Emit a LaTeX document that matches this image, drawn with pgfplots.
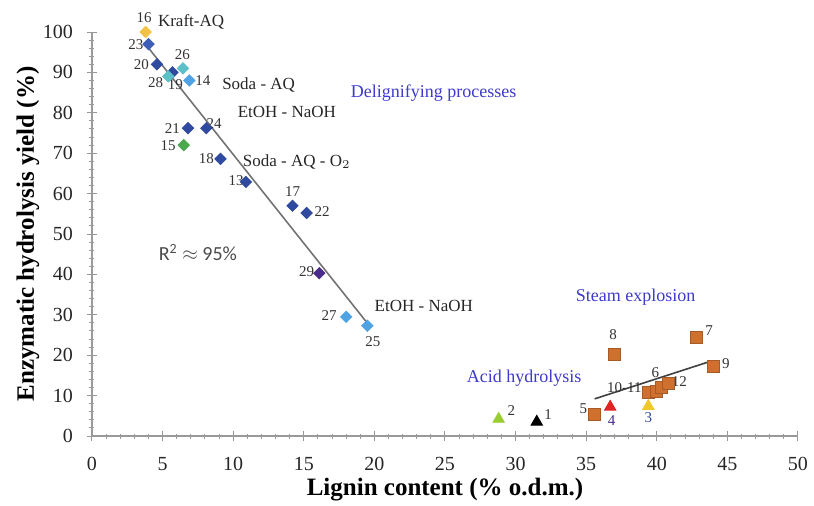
\documentclass[border=0pt]{standalone}
\usepackage{pgfplots}
\pgfplotsset{compat=1.18}
\usepackage{fontspec}
\setmainfont{Liberation Serif}
\newfontfamily\rfont{Carlito}
\definecolor{dblue}{HTML}{2F4A9E}
\definecolor{mblue}{HTML}{3D5DB8}
\definecolor{lblue}{HTML}{4FA3E3}
\definecolor{teal1}{HTML}{5CC0C8}
\definecolor{purp}{HTML}{4A2A8A}
\definecolor{grn}{HTML}{4CA84C}
\definecolor{gold}{HTML}{F2C246}
\definecolor{sqor}{HTML}{D0702E}
\definecolor{tgreen}{HTML}{9ACD32}
\definecolor{tred}{HTML}{E02424}
\definecolor{tyel}{HTML}{F0C828}
\definecolor{lbl}{HTML}{3E3ACB}
\begin{document}
\begin{tikzpicture}
\begin{axis}[name=ax,
  scale only axis, width=353pt, height=202pt,
  xmin=0, xmax=50, ymin=0, ymax=100,
  axis x line*=bottom, axis y line*=left,
  axis line style={draw=gray!80, line width=0.6pt},
  xtick={0,5,...,50}, ytick={0,10,...,100},
  minor x tick num=4, minor y tick num=4,
  tick align=center,
  major tick length=5pt, minor tick length=2.5pt,
  tick style={gray!80, line width=0.5pt},
  ticklabel style={font=\fontsize{10}{11}\selectfont, text=black!85},
  yticklabel style={xshift=-3.5pt},
  xticklabel style={yshift=-4.5pt},
  /pgf/number format/assume math mode=true,
  xlabel={\bfseries Lignin content (\% o.d.m.)},
  ylabel={\bfseries Enzymatic hydrolysis yield (\%)},
  label style={font=\fontsize{12.5}{13}\selectfont},
  xlabel style={at={(axis description cs:0.5,-0.1337)}, anchor=center},
  ylabel style={at={(axis description cs:-0.0907,0.5)}, anchor=center, rotate=0},
  clip=false,
]
% regression lines
\addplot[gray!90!black, line width=0.8pt, no marks] coordinates {(3.9,96.5) (19.6,27.5)};
\addplot[gray!50!black, line width=0.8pt, no marks] coordinates {(35.6,9.2) (43.9,18.6)};
% diamonds
\addplot[only marks, mark=square*, mark size=2.0pt, mark options={rotate=45, fill=dblue, draw=dblue}] coordinates {
(4.6,92) (5.7,90) (6.8,76.2) (8.1,76.2) (9.1,68.6) (10.9,62.9) (14.2,57) (15.2,55.2)};
\addplot[only marks, mark=square*, mark size=2.0pt, mark options={rotate=45, fill=mblue, draw=mblue}] coordinates {(4.0,97)};
\addplot[only marks, mark=square*, mark size=2.0pt, mark options={rotate=45, fill=teal1, draw=teal1}] coordinates {(6.45,91) (5.4,89)};
\addplot[only marks, mark=square*, mark size=2.0pt, mark options={rotate=45, fill=lblue, draw=lblue}] coordinates {(6.9,88) (18.0,29.5) (19.5,27.3)};
\addplot[only marks, mark=square*, mark size=2.0pt, mark options={rotate=45, fill=purp, draw=purp}] coordinates {(16.1,40.3)};
\addplot[only marks, mark=square*, mark size=2.0pt, mark options={rotate=45, fill=grn, draw=grn}] coordinates {(6.5,72)};
\addplot[only marks, mark=square*, mark size=2.0pt, mark options={rotate=45, fill=gold, draw=gold}] coordinates {(3.8,100)};
% squares
\addplot[only marks, mark=square*, mark size=3pt, mark options={fill=sqor, draw=sqor!80!black}] coordinates {
(35.6,5.4) (37.0,20.3) (42.8,24.3) (44.0,17.3) (39.4,10.8) (40.0,11.0) (40.3,12.0) (40.8,13.1)};
% triangles
\addplot[only marks, mark=triangle*, mark size=3.3pt, mark options={fill=tgreen, draw=tgreen}] coordinates {(28.8,4.2)};
\addplot[only marks, mark=triangle*, mark size=3.3pt, mark options={fill=black, draw=black}] coordinates {(31.5,3.5)};
\addplot[only marks, mark=triangle*, mark size=3.3pt, mark options={fill=tred, draw=tred}] coordinates {(36.7,7.2)};
\addplot[only marks, mark=triangle*, mark size=3.3pt, mark options={fill=tyel, draw=tyel}] coordinates {(39.4,7.4)};
% number labels
\begin{scope}[every node/.style={font=\fontsize{7.5}{8}\selectfont, text=black!80, inner sep=0pt}]
\node at (axis cs:3.7,103.5) {16};
\node at (axis cs:3.1,97) {23};
\node at (axis cs:3.5,92) {20};
\node at (axis cs:4.5,87.6) {28};
\node at (axis cs:5.9,87) {19};
\node at (axis cs:6.4,94.5) {26};
\node at (axis cs:7.85,88) {14};
\node at (axis cs:5.7,76.2) {21};
\node at (axis cs:8.65,77.4) {24};
\node at (axis cs:5.4,72) {15};
\node at (axis cs:8.1,68.6) {18};
\node at (axis cs:10.2,63.3) {13};
\node at (axis cs:14.2,60.6) {17};
\node at (axis cs:16.3,55.6) {22};
\node at (axis cs:15.2,40.8) {29};
\node at (axis cs:16.8,29.8) {27};
\node at (axis cs:19.9,23.4) {25};
\node at (axis cs:29.7,6.4) {2};
\node at (axis cs:32.3,5.2) {1};
\node at (axis cs:34.8,6.7) {5};
\node[text=purp] at (axis cs:36.8,3.7) {4};
\node at (axis cs:36.9,25.1) {8};
\node at (axis cs:43.7,26.2) {7};
\node at (axis cs:44.9,18.0) {9};
\node at (axis cs:41.6,13.6) {12};
\node at (axis cs:39.9,15.6) {6};
\node at (axis cs:37.7,11.9) {10-11};
\node[text=dblue] at (axis cs:39.4,4.6) {3};
\end{scope}
% text labels
\begin{scope}[every node/.style={font=\fontsize{8.5}{9}\selectfont, text=black!85, inner sep=0pt}]
\node[anchor=west] at (axis cs:4.65,102.5) {Kraft-AQ};
\node at (axis cs:11.8,86.8) {Soda - AQ};
\node at (axis cs:13.8,80.3) {EtOH - NaOH};
\node at (axis cs:14.5,67.8) {Soda - AQ - O$_2$};
\node at (axis cs:23.5,32.2) {EtOH - NaOH};
\end{scope}
\begin{scope}[every node/.style={font=\fontsize{9}{10}\selectfont, text=lbl, inner sep=0pt}]
\node at (axis cs:24.2,84.8) {Delignifying processes};
\node at (axis cs:38.5,34.4) {Steam explosion};
\node at (axis cs:30.6,14.2) {Acid hydrolysis};
\end{scope}
\node[font=\rfont\fontsize{10}{11}\selectfont, text=black!70, inner sep=0pt] at (axis cs:7.5,45.4) {R\textsuperscript{2} $\approx$ 95\%};
\end{axis}
\pgfresetboundingbox
\path (ax.south west) ++(-46pt,-34.5pt) coordinate (bbA);
\path (ax.north east) ++(8pt,16pt) coordinate (bbB);
\path[use as bounding box] (bbA) rectangle (bbB);
\end{tikzpicture}
\end{document}
